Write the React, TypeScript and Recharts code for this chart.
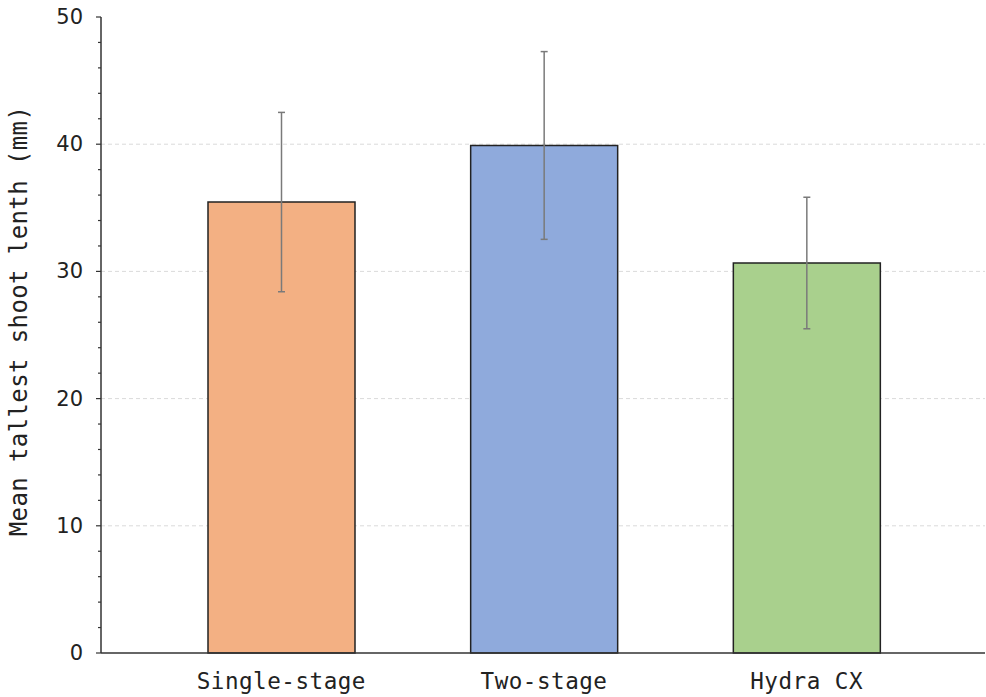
import React from "react"
import { ComposedChart, Bar, ErrorBar, XAxis, YAxis, CartesianGrid, Label } from "recharts"

const categories = ["Single-stage", "Two-stage", "Hydra CX"]
const meanLength = [35.45, 39.9, 30.66]
const sdLength = [7.05, 7.38, 5.17]
const barColors = ["#F3B083", "#8FAADC", "#A9D08D"]

const yTicks = [0, 2, 4, 6, 8, 10, 12, 14, 16, 18, 20, 22, 24, 26, 28, 30, 32, 34, 36, 38, 40, 42, 44, 46, 48, 50]
const yMajor = [0, 10, 20, 30, 40, 50]
const gridValues = [10, 20, 30, 40]

const data = categories.map((name, i) => ({
  name,
  mean: meanLength[i],
  sd: sdLength[i],
  fill: barColors[i],
}))

const MONO = "'DejaVu Sans Mono', monospace"
const SANS = "'DejaVu Sans', sans-serif"

function YTick({ x, y, payload }: any) {
  const major = yMajor.includes(payload.value)
  return (
    <g>
      <line x1={x - (major ? 5 : 3)} x2={x} y1={y} y2={y} stroke="#333" strokeWidth={1.2} />
      {major && (
        <text x={x - 18} y={y} textAnchor="end" dominantBaseline="central" fontFamily={SANS} fontSize={21} fill="#222">
          {payload.value}
        </text>
      )}
    </g>
  )
}

function XTick({ x, y, payload }: any) {
  return (
    <text x={x} y={y + 36} textAnchor="middle" fontFamily={MONO} fontSize={22.6} letterSpacing={0.5} fill="#222">
      {payload.value}
    </text>
  )
}

// axis title sits a bit above the plot's vertical centre
function YTitle() {
  const cy = 321
  return (
    <text
      x={19}
      y={cy}
      transform={`rotate(-90, 19, ${cy})`}
      textAnchor="middle"
      dominantBaseline="central"
      fontFamily={MONO}
      fontSize={24}
      letterSpacing={0.4}
      fill="#222"
    >
      Mean tallest shoot lenth (mm)
    </text>
  )
}

export default function App() {
  return (
    <div style={{ position: "absolute", left: 0, top: 0, background: "#fff" }}>
      <ComposedChart width={986} height={697} data={data} margin={{ top: 17, right: 1, left: 0, bottom: 0 }}>
        <CartesianGrid vertical={false} horizontalValues={gridValues} stroke="#dadada" strokeDasharray="4 3" />
        <XAxis
          dataKey="name"
          height={44}
          padding={{ left: 49, right: 47 }}
          axisLine={{ stroke: "#333", strokeWidth: 1.5 }}
          tickLine={false}
          tickSize={0}
          tickMargin={0}
          tick={<XTick />}
          interval={0}
        />
        <XAxis xAxisId="top" orientation="top" dataKey="name" height={0} tick={false} tickLine={false} axisLine={{ stroke: "#444", strokeWidth: 2 }} />
        <YAxis
          width={101}
          domain={[0, 50]}
          ticks={yTicks}
          interval={0}
          axisLine={{ stroke: "#333", strokeWidth: 1.5 }}
          tickLine={false}
          tickSize={0}
          tickMargin={0}
          tick={<YTick />}
        >
          <Label content={<YTitle />} />
        </YAxis>
        <YAxis yAxisId="right" orientation="right" width={0} domain={[0, 50]} tick={false} tickLine={false} axisLine={{ stroke: "#333", strokeWidth: 2 }} />
        <Bar dataKey="mean" barSize={147} stroke="#222" strokeWidth={1.5} isAnimationActive={false}>
          <ErrorBar dataKey="sd" width={3.5} stroke="#7a7a7a" strokeWidth={1.5} direction="y" />
        </Bar>
      </ComposedChart>
    </div>
  )
}
